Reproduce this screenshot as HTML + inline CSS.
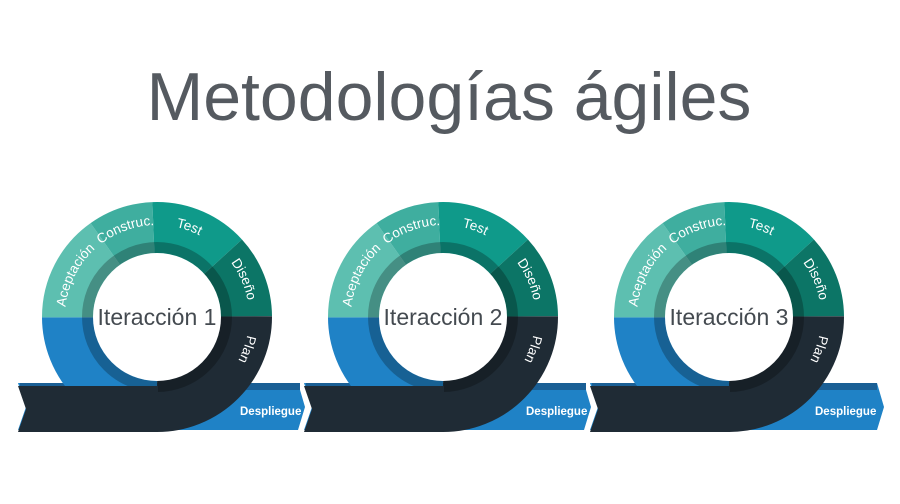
<!DOCTYPE html>
<html><head><meta charset="utf-8"><style>
body{margin:0;background:#fff;}
svg{display:block}
.lab{font-family:"Liberation Sans",sans-serif;font-size:13.5px;fill:#fff;}
.it{font-family:"Liberation Sans",sans-serif;font-size:23px;fill:#444a50;}
.dp{font-family:"Liberation Sans",sans-serif;font-size:11.5px;fill:#fff;font-weight:bold;}
</style></head><body>
<svg width="900" height="504" viewBox="0 0 900 504" xmlns="http://www.w3.org/2000/svg">
<text x="449" y="120" text-anchor="middle" font-family="Liberation Sans, sans-serif" font-size="68" fill="#555a60">Metodologías ágiles</text>

<g transform="translate(0,0)">
 <polygon points="18,383 298,383 305,407 298,430 18,430 26,407" fill="#1f82c6"/>
 <rect x="20" y="383" width="280" height="7" fill="#1a5f95"/>
 <g transform="translate(157,317)">
  <circle r="89" fill="none" stroke="#1f82c6" stroke-width="52" pathLength="360" stroke-dasharray="90 270" stroke-dashoffset="-90"/>
  <circle r="89" fill="none" stroke="#5dbfb0" stroke-width="52" pathLength="360" stroke-dasharray="55 305" stroke-dashoffset="-180"/>
  <circle r="89" fill="none" stroke="#3fae9f" stroke-width="52" pathLength="360" stroke-dasharray="33 327" stroke-dashoffset="-235"/>
  <circle r="89" fill="none" stroke="#0f9a8a" stroke-width="52" pathLength="360" stroke-dasharray="50 310" stroke-dashoffset="-268"/>
  <circle r="89" fill="none" stroke="#0c7566" stroke-width="52" pathLength="360" stroke-dasharray="42 318" stroke-dashoffset="-318"/>
  <circle r="89" fill="none" stroke="#1f2b35" stroke-width="52" pathLength="360" stroke-dasharray="90 270" stroke-dashoffset="0"/>
  <circle r="69.5" fill="none" stroke="#000" stroke-opacity="0.25" stroke-width="11"/>
  <circle r="64" fill="#fff"/>
  <path id="p1" d="M-92,0 A92,92 0 1 1 92,0 A92,92 0 1 1 -92,0" fill="none"/>
  <text class="lab"><textPath href="#p1" startOffset="7.5%" text-anchor="middle">Aceptación</textPath></text>
  <text class="lab"><textPath href="#p1" startOffset="19.5%" text-anchor="middle">Construc.</textPath></text>
  <text class="lab"><textPath href="#p1" startOffset="30.5%" text-anchor="middle">Test</textPath></text>
  <text class="lab"><textPath href="#p1" startOffset="43.5%" text-anchor="middle">Diseño</textPath></text>
  <text class="lab"><textPath href="#p1" startOffset="55.5%" text-anchor="middle">Plan</textPath></text>
  <text class="it" x="0" y="8" text-anchor="middle">Iteracción 1</text>
 </g>
 <polygon points="18,386 158,386 158,432 18,432 26,409" fill="#1f2b35"/>
 <text class="dp" x="240" y="415">Despliegue</text>
</g>

<g transform="translate(286,0)">
 <polygon points="18,383 298,383 305,407 298,430 18,430 26,407" fill="#1f82c6"/>
 <rect x="20" y="383" width="280" height="7" fill="#1a5f95"/>
 <g transform="translate(157,317)">
  <circle r="89" fill="none" stroke="#1f82c6" stroke-width="52" pathLength="360" stroke-dasharray="90 270" stroke-dashoffset="-90"/>
  <circle r="89" fill="none" stroke="#5dbfb0" stroke-width="52" pathLength="360" stroke-dasharray="55 305" stroke-dashoffset="-180"/>
  <circle r="89" fill="none" stroke="#3fae9f" stroke-width="52" pathLength="360" stroke-dasharray="33 327" stroke-dashoffset="-235"/>
  <circle r="89" fill="none" stroke="#0f9a8a" stroke-width="52" pathLength="360" stroke-dasharray="50 310" stroke-dashoffset="-268"/>
  <circle r="89" fill="none" stroke="#0c7566" stroke-width="52" pathLength="360" stroke-dasharray="42 318" stroke-dashoffset="-318"/>
  <circle r="89" fill="none" stroke="#1f2b35" stroke-width="52" pathLength="360" stroke-dasharray="90 270" stroke-dashoffset="0"/>
  <circle r="69.5" fill="none" stroke="#000" stroke-opacity="0.25" stroke-width="11"/>
  <circle r="64" fill="#fff"/>
  <path id="p2" d="M-92,0 A92,92 0 1 1 92,0 A92,92 0 1 1 -92,0" fill="none"/>
  <text class="lab"><textPath href="#p2" startOffset="7.5%" text-anchor="middle">Aceptación</textPath></text>
  <text class="lab"><textPath href="#p2" startOffset="19.5%" text-anchor="middle">Construc.</textPath></text>
  <text class="lab"><textPath href="#p2" startOffset="30.5%" text-anchor="middle">Test</textPath></text>
  <text class="lab"><textPath href="#p2" startOffset="43.5%" text-anchor="middle">Diseño</textPath></text>
  <text class="lab"><textPath href="#p2" startOffset="55.5%" text-anchor="middle">Plan</textPath></text>
  <text class="it" x="0" y="8" text-anchor="middle">Iteracción 2</text>
 </g>
 <polygon points="18,386 158,386 158,432 18,432 26,409" fill="#1f2b35"/>
 <text class="dp" x="240" y="415">Despliegue</text>
</g>

<g transform="translate(572,0)">
 <polygon points="18,383 305,383 312,407 305,430 18,430 26,407" fill="#1f82c6"/>
 <rect x="20" y="383" width="285" height="7" fill="#1a5f95"/>
 <g transform="translate(157,317)">
  <circle r="89" fill="none" stroke="#1f82c6" stroke-width="52" pathLength="360" stroke-dasharray="90 270" stroke-dashoffset="-90"/>
  <circle r="89" fill="none" stroke="#5dbfb0" stroke-width="52" pathLength="360" stroke-dasharray="55 305" stroke-dashoffset="-180"/>
  <circle r="89" fill="none" stroke="#3fae9f" stroke-width="52" pathLength="360" stroke-dasharray="33 327" stroke-dashoffset="-235"/>
  <circle r="89" fill="none" stroke="#0f9a8a" stroke-width="52" pathLength="360" stroke-dasharray="50 310" stroke-dashoffset="-268"/>
  <circle r="89" fill="none" stroke="#0c7566" stroke-width="52" pathLength="360" stroke-dasharray="42 318" stroke-dashoffset="-318"/>
  <circle r="89" fill="none" stroke="#1f2b35" stroke-width="52" pathLength="360" stroke-dasharray="90 270" stroke-dashoffset="0"/>
  <circle r="69.5" fill="none" stroke="#000" stroke-opacity="0.25" stroke-width="11"/>
  <circle r="64" fill="#fff"/>
  <path id="p3" d="M-92,0 A92,92 0 1 1 92,0 A92,92 0 1 1 -92,0" fill="none"/>
  <text class="lab"><textPath href="#p3" startOffset="7.5%" text-anchor="middle">Aceptación</textPath></text>
  <text class="lab"><textPath href="#p3" startOffset="19.5%" text-anchor="middle">Construc.</textPath></text>
  <text class="lab"><textPath href="#p3" startOffset="30.5%" text-anchor="middle">Test</textPath></text>
  <text class="lab"><textPath href="#p3" startOffset="43.5%" text-anchor="middle">Diseño</textPath></text>
  <text class="lab"><textPath href="#p3" startOffset="55.5%" text-anchor="middle">Plan</textPath></text>
  <text class="it" x="0" y="8" text-anchor="middle">Iteracción 3</text>
 </g>
 <polygon points="18,386 158,386 158,432 18,432 26,409" fill="#1f2b35"/>
 <text class="dp" x="243" y="415">Despliegue</text>
</g>
</svg>
</body></html>
